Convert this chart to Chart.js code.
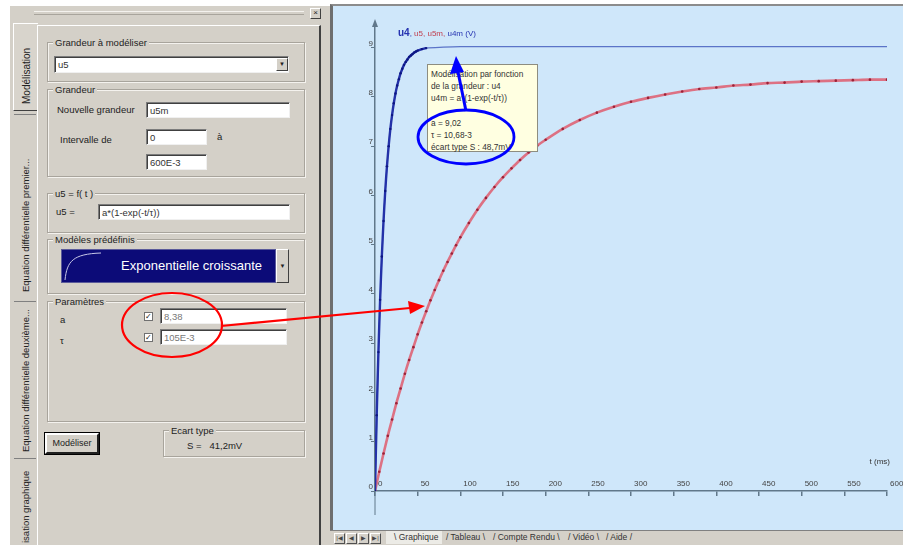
<!DOCTYPE html>
<html>
<head>
<meta charset="utf-8">
<script src="https://cdn.jsdelivr.net/npm/chart.js@4.4.0/dist/chart.umd.min.js"></script>
<style>
  html, body { margin: 0; padding: 0; }
  body { width: 903px; height: 545px; background: #ffffff; position: relative; overflow: hidden;
         font-family: "Liberation Sans", Arial, sans-serif; font-size: 10px; color: #222; }
  .abs { position: absolute; }
  #left { left: 10px; top: 6px; width: 320px; height: 539px; background: #d4d0c8; }
  .grp { position: absolute; border: 1px solid #a8a49c; box-shadow: inset 1px 1px 0 #f4f2ee, 1px 1px 0 #f4f2ee; }
  .grp > .cap { position: absolute; top: -6px; left: 5px; background: #d4d0c8; padding: 0 2px; font-size: 9.5px; }
  .lbl { position: absolute; font-size: 9.5px; white-space: nowrap; }
  .inp { position: absolute; background: #fff; border-top: 1px solid #7c7c7c; border-left: 1px solid #7c7c7c;
         border-bottom: 1px solid #f0f0f0; border-right: 1px solid #f0f0f0; box-shadow: inset 1px 1px 0 #404040;
         font-size: 9.5px; line-height: 15px; padding-left: 3px; box-sizing: border-box; color: #333; white-space: nowrap; }
  .btn { position: absolute; background: #d4d0c8; border: 1px solid; border-color: #fff #404040 #404040 #fff;
         box-sizing: border-box; font-size: 9px; text-align: center; }
  .vtab { position: absolute; transform: rotate(-90deg); transform-origin: left top; white-space: nowrap; font-size: 9.5px; }
  .chk { position: absolute; width: 9px; height: 9px; background: #fff; border: 1px solid #707070; box-sizing: border-box;
         font-size: 8px; line-height: 7px; text-align: center; }
  #frame { left: 330px; top: 4px; width: 573px; height: 527px; background: #cfe7fa;
           border-top: 2px solid #8c8c8c; border-left: 3px solid #6e6e6e; box-sizing: border-box; }
  #chartBox { position: absolute; left: 332px; top: 6px; width: 571px; height: 524px; }
  #tabs { left: 330px; top: 530px; width: 573px; height: 15px; background: #d4d0c8; border-top: 1px solid #808080; box-sizing: border-box; }
  .nav { position: absolute; top: 2px; width: 11px; height: 11px; border: 1px solid; border-color: #fff #505050 #505050 #fff;
         box-sizing: border-box; font-size: 6px; line-height: 9px; text-align: center; color: #444; }
  .tab { position: absolute; top: 0px; font-size: 8.5px; line-height: 13px; color: #333; white-space: nowrap; }
  #tip { left: 427px; top: 64px; width: 111px; height: 88px; background: #ffffe1; border: 1px solid #8d8d80;
         box-sizing: border-box; font-size: 8.3px; line-height: 12.2px; padding: 3px 0 0 3px; color: #333; white-space: nowrap; }
</style>
</head>
<body>
<div id="left" class="abs">
  <!-- title strip -->
  <div class="abs" style="left:24px;top:5px;width:270px;height:1px;background:#f4f2ee"></div>
  <div class="abs" style="left:24px;top:8px;width:270px;height:1px;background:#a8a49c"></div>
  <div class="btn" style="left:300px;top:2px;width:11px;height:11px;font-size:8px;line-height:8px">×</div>
  <!-- vertical tabs -->
  <div class="abs" style="left:3px;top:17px;width:24px;height:86px;background:#d8d4cc;border:1px solid;border-color:#fff #404040 #404040 #fff;border-right:none"></div>
  <div class="vtab" style="left:11px;top:98px;font-size:10px">Modélisation</div>
  <div class="abs" style="left:4px;top:108px;width:22px;height:1px;background:#808080"></div>
  <div class="vtab" style="left:10px;top:286px">Equation différentielle premier...</div>
  <div class="abs" style="left:4px;top:295px;width:22px;height:1px;background:#808080"></div>
  <div class="vtab" style="left:10px;top:446px">Equation différentielle deuxième...</div>
  <div class="abs" style="left:4px;top:452px;width:22px;height:1px;background:#808080"></div>
  <div class="vtab" style="left:10px;top:537px">isation graphique</div>
  <!-- main panel -->
  <div class="abs" style="left:27px;top:19px;width:284px;height:520px;border-left:1px solid #fff;border-top:1px solid #fff;border-right:2px solid #404040;box-sizing:border-box"></div>

  <div class="grp" style="left:37px;top:36px;width:256px;height:38px"><span class="cap">Grandeur à modéliser</span></div>
  <div class="inp" style="left:44px;top:50px;width:235px;height:17px">u5</div>
  <div class="btn" style="left:266px;top:52px;width:12px;height:13px;font-size:6px;line-height:11px">▼</div>

  <div class="grp" style="left:37px;top:83px;width:256px;height:86px"><span class="cap">Grandeur</span></div>
  <div class="lbl" style="left:47px;top:98px">Nouvelle grandeur</div>
  <div class="inp" style="left:136px;top:96px;width:144px;height:16px">u5m</div>
  <div class="lbl" style="left:50px;top:128px">Intervalle de</div>
  <div class="inp" style="left:136px;top:123px;width:61px;height:16px">0</div>
  <div class="lbl" style="left:207px;top:125px">à</div>
  <div class="inp" style="left:136px;top:148px;width:61px;height:16px">600E-3</div>

  <div class="grp" style="left:37px;top:187px;width:256px;height:38px"><span class="cap">u5 = f( t )</span></div>
  <div class="lbl" style="left:46px;top:200px">u5 =</div>
  <div class="inp" style="left:88px;top:198px;width:192px;height:16px">a*(1-exp(-t/τ))</div>

  <div class="grp" style="left:37px;top:233px;width:256px;height:53px"><span class="cap">Modèles prédéfinis</span></div>
  <div class="abs" style="left:51px;top:243px;width:215px;height:34px;background:#0c0b78;border:1px solid #5a5a9a;box-sizing:border-box;color:#fff;font-size:13px;line-height:32px;text-align:right;padding-right:13px">Exponentielle croissante</div>
  <svg class="abs" style="left:53px;top:245px" width="40" height="30"><path d="M2,29 C4,10 10,3 38,2" stroke="#c8c8e8" stroke-width="1" fill="none"/></svg>
  <div class="btn" style="left:266px;top:243px;width:13px;height:34px;font-size:6px;line-height:32px">▼</div>

  <div class="grp" style="left:37px;top:295px;width:256px;height:119px"><span class="cap">Paramètres</span></div>
  <div class="lbl" style="left:50px;top:308px">a</div>
  <div class="chk" style="left:134px;top:306px">✓</div>
  <div class="inp" style="left:150px;top:302px;width:127px;height:16px;color:#777">8,38</div>
  <div class="lbl" style="left:50px;top:329px">τ</div>
  <div class="chk" style="left:134px;top:327px">✓</div>
  <div class="inp" style="left:150px;top:323px;width:127px;height:16px;color:#777">105E-3</div>

  <div class="btn" style="left:35px;top:427px;width:54px;height:21px;line-height:17px;border-width:2px;border-color:#fff #202020 #202020 #fff;outline:1px solid #000">Modéliser</div>

  <div class="grp" style="left:153px;top:424px;width:140px;height:25px"><span class="cap">Ecart type</span></div>
  <div class="lbl" style="left:177px;top:434px">S =&nbsp;&nbsp;&nbsp;41,2mV</div>
</div>

<div id="frame" class="abs"></div>
<div id="chartBox"><canvas id="chart"></canvas></div>

<div id="tabs" class="abs">
  <div class="nav" style="left:4px">|◀</div>
  <div class="nav" style="left:16px">◀</div>
  <div class="nav" style="left:28px">▶</div>
  <div class="nav" style="left:40px">▶|</div>
  <div class="tab" style="left:56px;background:#ecebe6;padding:0 4px 0 8px">\ Graphique</div>
  <div class="tab" style="left:116px">/ Tableau \</div>
  <div class="tab" style="left:163px">/ Compte Rendu \</div>
  <div class="tab" style="left:238px">/ Vidéo \</div>
  <div class="tab" style="left:276px">/ Aide /</div>
</div>

<div id="tip" class="abs">Modélisation par fonction<br>de la grandeur : u4<br>u4m = a*(1-exp(-t/τ))<br>&nbsp;<br>a = 9,02<br>τ = 10,68-3<br>écart type S : 48,7mV</div>

<svg class="abs" style="left:0;top:0" width="903" height="545">
  <ellipse cx="172" cy="325" rx="50" ry="32" fill="none" stroke="#ff0000" stroke-width="2.2"/>
  <line x1="221" y1="326" x2="410" y2="308" stroke="#ff0000" stroke-width="2.2"/>
  <polygon points="425,306 408,301 410,314" fill="#ff0000"/>
  <ellipse cx="466" cy="137" rx="48" ry="27" fill="none" stroke="#0000ff" stroke-width="2.8"/>
  <line x1="466" y1="111" x2="458" y2="72" stroke="#0000ff" stroke-width="3"/>
  <polygon points="456,56 450,74 464,72" fill="#0000ff"/>
</svg>

<script>
// tick labels
const xTicks = [0, 50, 100, 150, 200, 250, 300, 350, 400, 450, 500, 550, 600];
const yTicks = [0, 1, 2, 3, 4, 5, 6, 7, 8, 9];

// u4 : measured points (t in ms, value in V)
const tU4 = [0, 2, 4, 6, 8, 10, 12, 14, 16, 18, 20, 22, 24, 26, 28, 30, 32, 34, 36, 38, 40, 42, 44, 46, 48, 50, 55, 60];
const u4 = [0, 1.54, 2.82, 3.88, 4.76, 5.48, 6.09, 6.59, 7.00, 7.35, 7.63, 7.87, 8.07, 8.23, 8.36, 8.48, 8.57, 8.65, 8.71, 8.76, 8.81, 8.84, 8.87, 8.90, 8.92, 8.94, 8.97, 8.99];

// u4m : model
const tU4m = [0, 5, 10, 15, 20, 25, 30, 40, 50, 60, 80, 100, 200, 300, 400, 500, 600];
const u4m = [0, 3.37, 5.48, 6.81, 7.63, 8.15, 8.48, 8.81, 8.94, 8.99, 9.01, 9.02, 9.02, 9.02, 9.02, 9.02, 9.02];

// u5 / u5m
const tU5 = [0, 5, 10, 15, 20, 25, 30, 35, 40, 45, 50, 55, 60, 65, 70, 75, 80, 85, 90, 95, 100,
             110, 120, 130, 140, 150, 160, 170, 180, 190, 200,
             220, 240, 260, 280, 300, 320, 340, 360, 380, 400, 420, 440, 460, 480, 500, 520, 540, 560, 580, 600];
const u5 = [0, 0.39, 0.76, 1.12, 1.45, 1.78, 2.08, 2.38, 2.66, 2.92, 3.18, 3.42, 3.65, 3.87, 4.08, 4.28, 4.47, 4.65, 4.82, 4.99, 5.15,
            5.44, 5.71, 5.95, 6.17, 6.37, 6.55, 6.72, 6.87, 7.01, 7.13,
            7.35, 7.53, 7.68, 7.80, 7.90, 7.98, 8.05, 8.11, 8.16, 8.19, 8.23, 8.25, 8.28, 8.29, 8.31, 8.32, 8.33, 8.34, 8.35, 8.35];

const pts = (xs, ys) => xs.map((x, i) => ({ x: x, y: ys[i] }));
const axisColor = '#61788a';

const decor = {
    id: 'decor',
    afterDraw(chart) {
        const c = chart.ctx;
        const xs = chart.scales.x, ys = chart.scales.y;
        const x0 = xs.getPixelForValue(0), y0 = ys.getPixelForValue(0);
        c.save();
        c.strokeStyle = axisColor;
        c.fillStyle = axisColor;
        c.lineWidth = 1;
        // y axis running below the origin
        c.beginPath();
        c.moveTo(x0, y0);
        c.lineTo(x0, y0 + 24);
        c.stroke();
        // arrow on top of y axis
        const yt = chart.chartArea.top;
        c.beginPath();
        c.moveTo(x0, yt - 4);
        c.lineTo(x0 - 3, yt + 4);
        c.lineTo(x0 + 3, yt + 4);
        c.closePath();
        c.fill();
        // titles
        c.textBaseline = 'alphabetic';
        c.font = 'bold 10px "Liberation Sans", Arial';
        c.fillStyle = '#2633b0';
        let tx = x0 + 23, ty = yt + 13;
        c.fillText('u4', tx, ty);
        tx += c.measureText('u4').width;
        c.font = '8px "Liberation Sans", Arial';
        c.fillText(', ', tx, ty);
        tx += c.measureText(', ').width;
        c.fillStyle = '#c04050';
        c.fillText('u5, u5m, ', tx, ty);
        tx += c.measureText('u5, u5m, ').width;
        c.fillStyle = '#2633b0';
        c.fillText('u4m (V)', tx, ty);
        c.fillStyle = '#333';
        c.textAlign = 'right';
        c.fillText('t (ms)', xs.getPixelForValue(600) + 3, y0 - 27);
        c.restore();
    }
};

new Chart(document.getElementById('chart'), {
    type: 'scatter',
    data: {
        datasets: [
            { label: 'u4', data: pts(tU4, u4), showLine: true, borderColor: '#2331a8', borderWidth: 2.4,
              pointRadius: 1.2, pointBackgroundColor: '#0d1680', pointBorderWidth: 0, tension: 0.3, order: 1 },
            { label: 'u4m', data: pts(tU4m, u4m), showLine: true, borderColor: '#5b74c8', borderWidth: 1.2,
              pointRadius: 0, tension: 0.3, order: 2 },
            { label: 'u5', data: pts(tU5, u5), showLine: false, pointRadius: 1.3,
              pointBackgroundColor: '#9a2238', pointBorderWidth: 0, order: 3 },
            { label: 'u5m', data: pts(tU5, u5), showLine: true, borderColor: 'rgba(222,100,118,0.9)', borderWidth: 2.6,
              pointRadius: 0, tension: 0.3, order: 4 }
        ]
    },
    options: {
        responsive: true,
        maintainAspectRatio: false,
        animation: false,
        layout: { padding: { left: 0, right: 16, top: 17, bottom: 19 } },
        plugins: { legend: { display: false }, tooltip: { enabled: false } },
        scales: {
            x: {
                type: 'linear', min: 0, max: 600,
                afterBuildTicks: s => { s.ticks = xTicks.map(v => ({ value: v })); },
                afterFit: s => { s.height = 20; s.paddingLeft = 0; s.paddingRight = 0; },
                border: { display: true, color: axisColor, width: 1.5 },
                grid: { drawOnChartArea: false, drawTicks: true, tickLength: 5, color: axisColor, lineWidth: 1.5 },
                ticks: { color: '#444', font: { size: 8, family: '"Liberation Sans", Arial' },
                         mirror: true, align: 'start', labelOffset: 3, padding: 2, maxRotation: 0, autoSkip: false }
            },
            y: {
                type: 'linear', min: 0, max: 9.5,
                afterBuildTicks: s => { s.ticks = yTicks.map(v => ({ value: v })); },
                afterFit: s => { s.width = 43; s.paddingTop = 0; s.paddingBottom = 0; },
                border: { display: true, color: axisColor, width: 1.5 },
                grid: { drawOnChartArea: false, drawTicks: true, tickLength: 4, color: axisColor, lineWidth: 1 },
                ticks: { color: '#444', font: { size: 8, family: '"Liberation Sans", Arial' },
                         labelOffset: -4, padding: -2, autoSkip: false }
            }
        }
    },
    plugins: [decor]
});
</script>
</body>
</html>
